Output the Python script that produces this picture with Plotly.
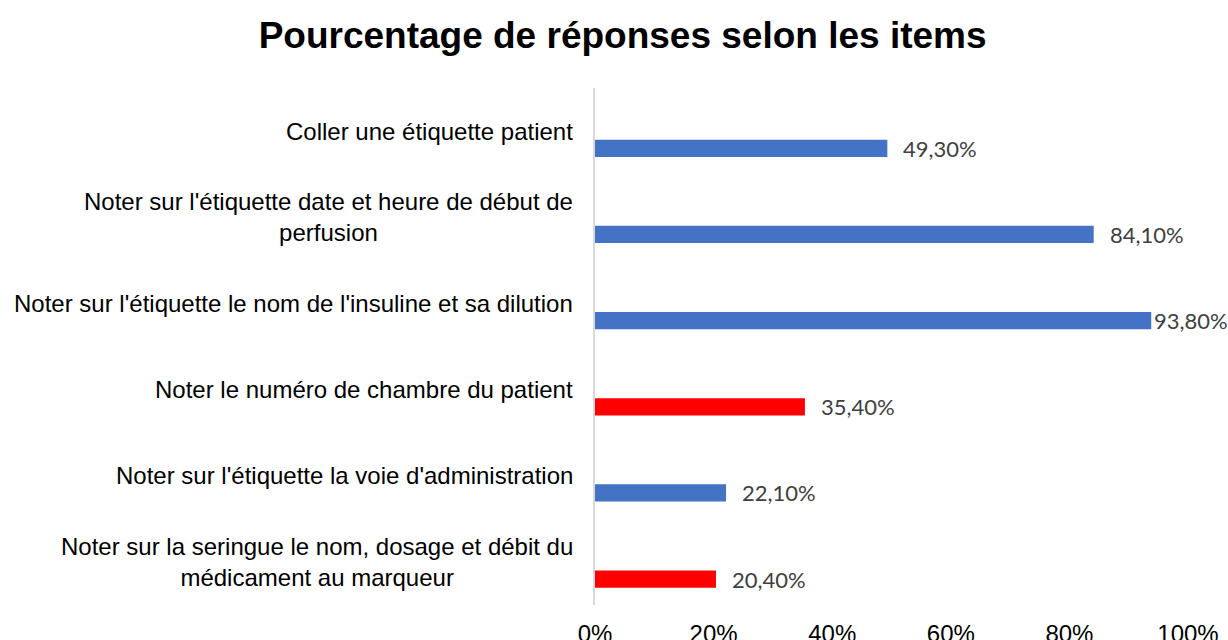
import plotly.graph_objects as go

categories = [
    "Coller une étiquette patient",
    "Noter sur l'étiquette date et heure de début de<br>perfusion",
    "Noter sur l'étiquette le nom de l'insuline et sa dilution",
    "Noter le numéro de chambre du patient",
    "Noter sur l'étiquette la voie d'administration",
    "Noter sur la seringue le nom, dosage et débit du<br>médicament au marqueur",
]
values = [0.493, 0.841, 0.938, 0.354, 0.221, 0.204]
value_labels = ["49,30%", "84,10%", "93,80%", "35,40%", "22,10%", "20,40%"]
highlight = [False, False, False, True, False, True]
tick_vals = [0, 0.2, 0.4, 0.6, 0.8, 1.0]
tick_text = ["0%", "20%", "40%", "60%", "80%", "100%"]

BLUE = "#4472C4"
RED = "#FF0000"
colors = [RED if h else BLUE for h in highlight]
idx = list(range(len(categories)))

fig = go.Figure()
fig.add_trace(go.Bar(
    x=values, y=idx, orientation="h",
    marker=dict(color=colors, line=dict(width=0)),
    width=0.2, offset=0.1,
    hoverinfo="skip",
))

# category labels (centered multi-line, right aligned block)
for i, cat in enumerate(categories):
    fig.add_annotation(
        x=0, xref="paper", y=i, yref="y",
        text=cat, showarrow=False,
        xanchor="right", yanchor="middle", align="center", xshift=-20,
        font=dict(family="Liberation Sans, Arial, sans-serif", size=24, color="#000000"),
    )

# data labels
for i, (v, lab) in enumerate(zip(values, value_labels)):
    fig.add_annotation(
        x=v, xref="x", y=i + 0.2, yref="y",
        text=lab, showarrow=False,
        xanchor="left", yanchor="middle", xshift=1 if v > 0.9 else 14,
        font=dict(family="Lato, Open Sans, sans-serif", size=22, color="#404040"),
    )

fig.update_layout(
    width=1228, height=640,
    margin=dict(l=595, r=40, t=88, b=35, autoexpand=False),
    paper_bgcolor="white", plot_bgcolor="white",
    showlegend=False,
    title=dict(
        text="<b>Pourcentage de réponses selon les items</b>",
        x=0.507, xanchor="center", y=1 - 35 / 640, yanchor="middle", yref="container",
        font=dict(family="Liberation Sans, Arial, sans-serif", size=37, color="#000000"),
    ),
    xaxis=dict(
        range=[0, 1], tickvals=tick_vals, ticktext=tick_text,
        showgrid=False, zeroline=False, showline=False, automargin=False,
        ticks="outside", ticklen=7, tickcolor="rgba(0,0,0,0)",
        tickfont=dict(family="Liberation Sans, Arial, sans-serif", size=24, color="#000000"),
        fixedrange=True,
    ),
    yaxis=dict(
        range=[len(categories) - 0.5, -0.5], automargin=False,
        showticklabels=False, showgrid=False, zeroline=False,
        showline=True, linecolor="#D9D9D9", linewidth=2,
        ticks="", fixedrange=True,
    ),
)

fig.write_html(
    "out.html",
    config={"displayModeBar": False},
    post_script="document.body.style.margin='0';document.body.style.overflow='hidden';",
)
